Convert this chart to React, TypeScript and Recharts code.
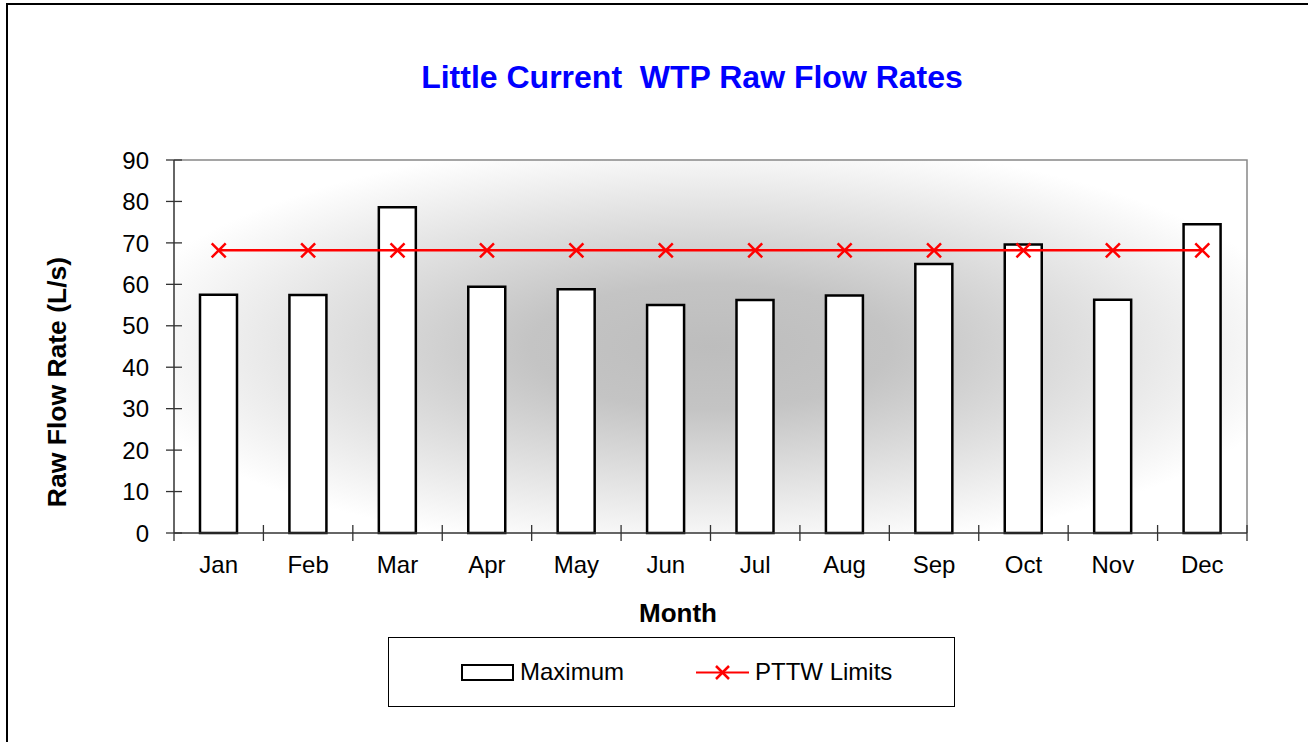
import {
  ComposedChart,
  Bar,
  Line,
  XAxis,
  YAxis,
  CartesianGrid,
  Legend,
  ReferenceArea,
} from "recharts";

const months = ["Jan", "Feb", "Mar", "Apr", "May", "Jun", "Jul", "Aug", "Sep", "Oct", "Nov", "Dec"];
const maximum = [57.5, 57.4, 78.6, 59.4, 58.8, 55.0, 56.2, 57.3, 64.9, 69.6, 56.3, 74.5];
const pttwLimits = [68.2, 68.2, 68.2, 68.2, 68.2, 68.2, 68.2, 68.2, 68.2, 68.2, 68.2, 68.2];
const yTicks = [0, 10, 20, 30, 40, 50, 60, 70, 80, 90];

const data = months.map((month, i) => ({
  month,
  max: maximum[i],
  pttw: pttwLimits[i],
}));

const FONT = '"Liberation Sans", Arial, sans-serif';
const PLOT_LEFT = 174;
const PLOT_RIGHT = 1247;
const PLOT_TOP = 160;
const PLOT_BOTTOM = 533;
const BAND = (PLOT_RIGHT - PLOT_LEFT) / months.length;
const AXIS = "#333";
// top + right edges only of the plot frame
const FRAME_DASH = `${PLOT_RIGHT - PLOT_LEFT + PLOT_BOTTOM - PLOT_TOP} 4000`;

function YTick({ x, y, payload }: any) {
  return (
    <g>
      <line x1={x - 8} x2={x + 8} y1={y} y2={y} stroke={AXIS} strokeWidth={1.3} />
      <text x={x - 25} y={y} dy="0.36em" textAnchor="end" fontSize={24} fill="#000" fontFamily={FONT}>
        {payload.value}
      </text>
    </g>
  );
}

function XTick({ x, y, payload, index }: any) {
  const left = x - BAND / 2;
  const right = x + BAND / 2;
  return (
    <g>
      <line x1={left} x2={left} y1={index === 0 ? y : y - 8} y2={y + 8} stroke={AXIS} strokeWidth={1.3} />
      {index === months.length - 1 && (
        <line x1={right} x2={right} y1={y - 8} y2={y + 8} stroke={AXIS} strokeWidth={1.3} />
      )}
      <text x={x} y={y + 40} textAnchor="middle" fontSize={24} fill="#000" fontFamily={FONT}>
        {payload.value}
      </text>
    </g>
  );
}

function XMark({ cx, cy }: any) {
  const s = 7;
  return (
    <path
      d={`M${cx - s},${cy - s}L${cx + s},${cy + s}M${cx - s},${cy + s}L${cx + s},${cy - s}`}
      stroke="#ff0000"
      strokeWidth={2.5}
      fill="none"
    />
  );
}

function YTitle() {
  return (
    <text
      x={66}
      y={382}
      transform="rotate(-90 66 382)"
      textAnchor="middle"
      fontSize={26.5}
      fontWeight="bold"
      fill="#000"
      fontFamily={FONT}
    >
      Raw Flow Rate (L/s)
    </text>
  );
}

function XTitle() {
  return (
    <text x={678} y={622} textAnchor="middle" fontSize={26} fontWeight="bold" fill="#000" fontFamily={FONT}>
      Month
    </text>
  );
}

function LegendBox() {
  return (
    <div
      style={{
        position: "relative",
        width: 567,
        height: 70,
        border: "1px solid #000",
        boxSizing: "border-box",
        background: "#fff",
        fontFamily: FONT,
        fontSize: 24,
        color: "#000",
      }}
    >
      <div style={{ position: "absolute", left: 72, top: 0, bottom: 0, display: "flex", alignItems: "center" }}>
        <svg width={53} height={17}>
          <rect x={1} y={1} width={51} height={15} fill="#fff" stroke="#000" strokeWidth={2} />
        </svg>
        <span style={{ marginLeft: 6 }}>Maximum</span>
      </div>
      <div style={{ position: "absolute", left: 307, top: 0, bottom: 0, display: "flex", alignItems: "center" }}>
        <svg width={53} height={17}>
          <line x1={0} x2={53} y1={8.5} y2={8.5} stroke="#ff0000" strokeWidth={2} />
          <path d="M20,2L33,15M20,15L33,2" stroke="#ff0000" strokeWidth={2.5} fill="none" />
        </svg>
        <span style={{ marginLeft: 6 }}>PTTW Limits</span>
      </div>
    </div>
  );
}

export default function App() {
  return (
    <div>
      <div
        style={{
          position: "fixed",
          left: 6,
          top: 3,
          width: 1302,
          height: 739,
          borderLeft: "2px solid #000",
          borderTop: "2px solid #000",
          boxSizing: "border-box",
          background: "#fff",
        }}
      />
      <div
        style={{
          position: "fixed",
          left: 692,
          top: 61,
          transform: "translateX(-50%)",
          whiteSpace: "nowrap",
          fontFamily: FONT,
          fontSize: 32,
          fontWeight: "bold",
          lineHeight: 1,
          color: "#0000ff",
        }}
      >
        Little Current&nbsp; WTP Raw Flow Rates
      </div>
      <div style={{ position: "fixed", left: 0, top: 0, width: 1308, height: 742 }}>
        <ComposedChart
          width={1308}
          height={742}
          data={data}
          margin={{ top: PLOT_TOP, right: 1308 - PLOT_RIGHT, bottom: 35, left: 0 }}
        >
          <defs>
            <radialGradient id="plotBg" cx="50%" cy="50%" r="56%">
              <stop offset="0%" stopColor="#bdbdbd" />
              <stop offset="30%" stopColor="#c4c4c4" />
              <stop offset="100%" stopColor="#ffffff" />
            </radialGradient>
          </defs>
          <CartesianGrid horizontal={false} vertical={false} fill="url(#plotBg)" />
          <ReferenceArea
            y1={0}
            y2={90}
            fill="none"
            stroke="#888"
            strokeWidth={1.5}
            strokeDasharray={FRAME_DASH}
            ifOverflow="visible"
          />
          <XAxis
            dataKey="month"
            height={104}
            interval={0}
            tickSize={0}
            tickMargin={0}
            tick={<XTick />}
            axisLine={{ stroke: AXIS, strokeWidth: 1.5 }}
            label={<XTitle />}
          />
          <YAxis
            domain={[0, 90]}
            ticks={yTicks}
            interval={0}
            width={PLOT_LEFT}
            tickSize={0}
            tickMargin={0}
            tick={<YTick />}
            axisLine={{ stroke: AXIS, strokeWidth: 1.5 }}
            label={<YTitle />}
          />
          <Legend
            verticalAlign="bottom"
            align="left"
            width={567}
            wrapperStyle={{ left: 388, bottom: 35, width: 567 }}
            content={<LegendBox />}
          />
          <Bar
            dataKey="max"
            name="Maximum"
            barSize={37}
            fill="#ffffff"
            stroke="#000"
            strokeWidth={2.5}
            isAnimationActive={false}
          />
          <Line
            dataKey="pttw"
            name="PTTW Limits"
            stroke="#ff0000"
            strokeWidth={2.5}
            dot={<XMark />}
            activeDot={false}
            isAnimationActive={false}
          />
        </ComposedChart>
      </div>
    </div>
  );
}
